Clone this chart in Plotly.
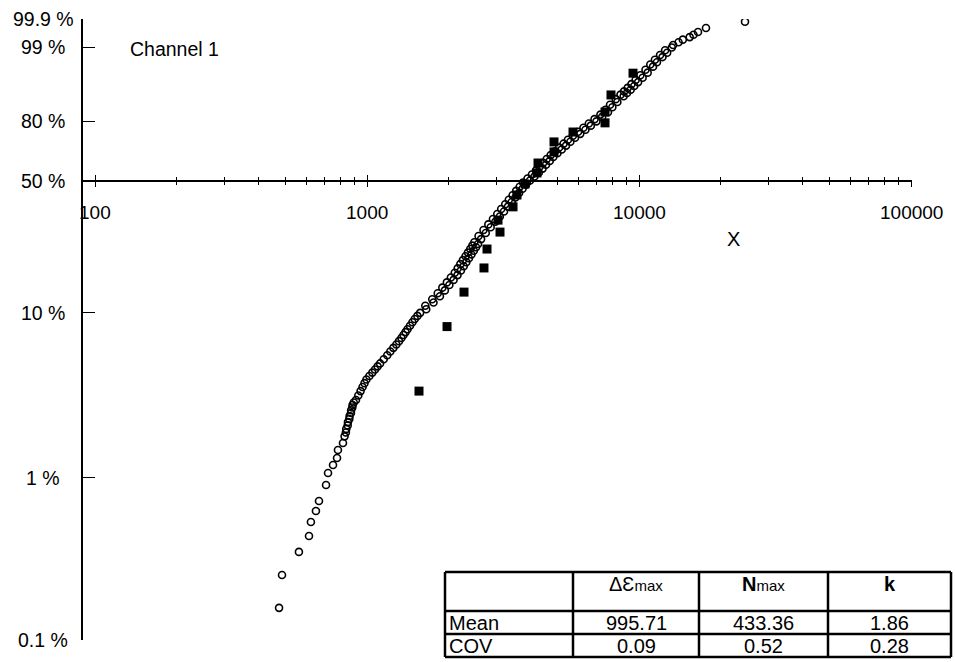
import numpy as np
import plotly.graph_objects as go

# Simulated lives: cumulative probability (%) and cycles to failure (hollow circles)
prob_sim = [
    0.158, 0.252, 0.350, 0.439, 0.535, 0.626, 0.721, 0.905, 1.073, 1.201, 1.327, 1.486, 1.640,
    1.8, 1.9, 2.0, 2.1, 2.2, 2.3, 2.4, 2.5, 2.6, 2.7, 2.8, 2.9, 3.0,
    3.2, 3.4, 3.6, 3.8, 4.0, 4.2, 4.4, 4.6, 4.8, 5.0,
    5.3, 5.6, 5.9, 6.2, 6.5, 6.8, 7.1, 7.4, 7.7, 8.0, 8.4, 8.8, 9.2, 9.6, 10.0,
    10.5, 11, 11.5, 12, 12.5, 13, 13.5, 14, 14.5, 15, 15.5, 16, 16.5, 17, 17.5, 18, 18.5, 19, 19.5, 20,
    20.5, 21, 21.5, 22, 22.5, 23, 23.5, 24, 24.5, 25,
    26, 27, 28, 29, 30, 31, 32, 33, 34, 35, 36, 37, 38, 39, 40, 41, 42, 43, 44, 45,
    46, 47, 48, 49, 50, 51, 52, 53, 54, 55, 56, 57, 58, 59, 60, 61, 62, 63, 64, 65,
    66, 67, 68, 69, 70, 71, 72, 73, 74, 75, 76, 77, 78, 79, 80, 81, 82, 83, 84, 85,
    86, 87, 88, 89, 90, 90.5, 91, 91.5, 92, 92.5, 93, 93.5, 94, 94.5, 95, 95.5, 96, 96.5, 97,
    97.3, 97.6, 97.9, 98.2, 98.4, 98.6, 98.8, 99.0, 99.15, 99.3, 99.42, 99.52, 99.6, 99.68, 99.77, 99.87,
]
cycles_sim = [
    475, 487, 562, 612, 622, 649, 666, 707, 719, 750, 776, 782, 816,
    827, 836, 839, 849, 851, 861, 863, 873, 874, 883, 885, 894, 911,
    929, 947, 963, 979, 995, 1020, 1046, 1070, 1094, 1117,
    1152, 1187, 1218, 1250, 1282, 1311, 1338, 1362, 1386, 1409, 1439, 1469, 1498, 1532, 1568,
    1651, 1638, 1756, 1737, 1854, 1820, 1933, 1892, 2008, 1966, 2081, 2034, 2152, 2102, 2215, 2154, 2268, 2203, 2318, 2252,
    2370, 2303, 2420, 2350, 2470, 2396, 2517, 2439, 2560, 2480,
    2627, 2571, 2733, 2681, 2849, 2793, 2964, 2904, 3079, 3012, 3189, 3114, 3298, 3222, 3405, 3321, 3513, 3430, 3624, 3534,
    3731, 3641, 3843, 3747, 3976, 3892, 4127, 4040, 4284, 4179, 4421, 4307, 4552, 4445, 4697, 4579, 4839, 4732, 5013, 4908,
    5200, 5085, 5393, 5279, 5593, 5478, 5819, 5714, 6081, 5972, 6355, 6247, 6651, 6540, 6975, 6862, 7321, 7214, 7689, 7526,
    7980, 7825, 8326, 8212, 8781, 8552, 9037, 8809, 9318, 9082, 9605, 9379, 9927, 9717, 10312, 10114, 10761, 10564, 11261,
    11000, 11640, 11440, 12200, 11950, 12690, 12470, 13200, 13350, 13980, 14490, 15360, 15860, 16480, 17630, 24530,
]

# Test results: median-rank probability (%) and cycles to failure (filled squares)
prob_test = [3.4, 8.3, 13.2, 18.1, 23.0, 28.3, 32.6, 37.9, 43.1, 48.3,
             53.8, 58.9, 64.7, 69.9, 74.9, 79.3, 84.1, 90.4, 95.9]
cycles_test = [1553, 1969, 2273, 2692, 2762, 3083, 3031, 3442, 3560, 3810,
               4217, 4253, 4870, 4870, 5720, 7500, 7500, 7889, 9506]

# Axis labelling
y_tick_pct = [0.1, 1, 10, 50, 80, 99, 99.9]
y_tick_text = ["0.1 %", "1 %", "10 %", "50 %", "80 %", "99 %", "99.9 %"]
x_major_vals = [100, 1000, 10000, 100000]
x_major_text = ["100", "1000", "10000", "100000"]
x_minor_vals = [m * 10 ** e for e in range(2, 5) for m in range(2, 10)]

# Summary table
sub = "<span style='font-size:15px'>max</span>"
table_header = ["", "\u0394\u0190" + sub, "<b>N</b>" + sub, "<b>k</b>"]
table_rows = ["Mean", "COV"]
table_values = [["995.71", "433.36", "1.86"],
                ["0.09", "0.52", "0.28"]]


def weibull_scale(p_pct):
    """Weibull probability-paper ordinate ln(-ln(1-p))."""
    p = np.asarray(p_pct, dtype=float) / 100.0
    return np.log(-np.log(1.0 - p))


W, H = 955, 662
ML, MR, MT, MB = 83, 43, 19, 22
PW, PH = W - ML - MR, H - MT - MB


def fx(px):
    return (px - ML) / PW


def fy(py):
    return (H - MB - py) / PH


y_lo, y_hi = float(weibull_scale(0.1)), float(weibull_scale(99.9))
y_mid = float(weibull_scale(50))
axis_pos = (y_mid - y_lo) / (y_hi - y_lo)
decade_px = 272.0
x_range = [2 - (95 - ML) / decade_px, 2 - (95 - ML) / decade_px + PW / decade_px]

FONT = "Liberation Sans, Arial, sans-serif"

fig = go.Figure()
fig.add_trace(go.Scatter(
    x=cycles_sim, y=weibull_scale(prob_sim), mode="markers",
    marker=dict(symbol="circle-open", size=7, color="black",
                line=dict(width=1.6, color="black")),
    hoverinfo="skip", showlegend=False))
fig.add_trace(go.Scatter(
    x=cycles_test, y=weibull_scale(prob_test), mode="markers", xaxis="x2",
    marker=dict(symbol="square", size=9, color="black"),
    hoverinfo="skip", showlegend=False))

common_x = dict(type="log", range=x_range, anchor="free", position=axis_pos,
                showgrid=False, zeroline=False, showticklabels=False,
                tickmode="array", tickvals=x_major_vals, ticklen=6, tickwidth=1,
                tickcolor="black")
fig.update_layout(
    width=W, height=H,
    margin=dict(l=ML, r=MR, t=MT, b=MB, pad=0),
    paper_bgcolor="white", plot_bgcolor="white",
    font=dict(family=FONT, color="black", size=19),
    showlegend=False,
    xaxis=dict(**common_x, ticks="outside", showline=True, linecolor="black", linewidth=1.5,
               minor=dict(tickmode="array", tickvals=x_minor_vals, ticks="outside",
                          ticklen=4, tickwidth=1, tickcolor="black")),
    xaxis2=dict(**common_x, ticks="inside", overlaying="x", showline=False,
                minor=dict(tickmode="array", tickvals=x_minor_vals, ticks="inside",
                           ticklen=4, tickwidth=1, tickcolor="black")),
    yaxis=dict(range=[y_lo, y_hi], showgrid=False, zeroline=False,
               showline=True, linecolor="black", linewidth=1.5,
               tickmode="array", tickvals=weibull_scale(y_tick_pct),
               ticks="inside", ticklen=12, tickwidth=1.2, tickcolor="black",
               showticklabels=False),
)

ann = []
for p, t in zip(y_tick_pct, y_tick_text):
    ann.append(dict(x=0, xref="paper", xshift=-40, y=float(weibull_scale(p)), yref="y",
                    text=t, showarrow=False, xanchor="center", yanchor="middle",
                    font=dict(size=19.5)))
for v, t in zip(x_major_vals, x_major_text):
    ann.append(dict(x=np.log10(v), xref="x", y=y_mid, yref="y", yshift=-32,
                    text=t, showarrow=False, xanchor="center", yanchor="middle",
                    font=dict(size=19)))
ann.append(dict(x=fx(733), xref="paper", y=fy(239), yref="paper", text="X",
                showarrow=False, xanchor="center", yanchor="middle", font=dict(size=20)))
ann.append(dict(x=fx(128), xref="paper", y=fy(49), yref="paper", text="Channel 1",
                showarrow=False, xanchor="left", yanchor="middle", font=dict(size=19.5)))

# Table grid
col_px = [445, 573, 699, 828, 951]
row_px = [572, 611, 634, 657]
shapes = []
for py in row_px:
    shapes.append(dict(type="line", xref="paper", yref="paper",
                       x0=fx(col_px[0]), x1=fx(col_px[-1]), y0=fy(py), y1=fy(py),
                       line=dict(color="black", width=2.5)))
for px in col_px:
    shapes.append(dict(type="line", xref="paper", yref="paper",
                       x0=fx(px), x1=fx(px), y0=fy(row_px[0]), y1=fy(row_px[-1]),
                       line=dict(color="black", width=2.5)))

for i, h in enumerate(table_header):
    if not h:
        continue
    cx = (col_px[i] + col_px[i + 1]) / 2
    ann.append(dict(x=fx(cx), xref="paper", y=fy(584), yref="paper", text=h,
                    showarrow=False, xanchor="center", yanchor="middle", font=dict(size=20)))
for r, (lab, vals) in enumerate(zip(table_rows, table_values)):
    cy = (row_px[r + 1] + row_px[r + 2]) / 2
    ann.append(dict(x=fx(col_px[0] + 2), xref="paper", y=fy(cy), yref="paper", text=lab,
                    showarrow=False, xanchor="left", yanchor="middle", font=dict(size=20)))
    for j, v in enumerate(vals):
        cx = (col_px[j + 1] + col_px[j + 2]) / 2
        ann.append(dict(x=fx(cx), xref="paper", y=fy(cy), yref="paper", text=v,
                        showarrow=False, xanchor="center", yanchor="middle", font=dict(size=20)))

fig.update_layout(annotations=ann, shapes=shapes)
fig.write_html("out.html")
